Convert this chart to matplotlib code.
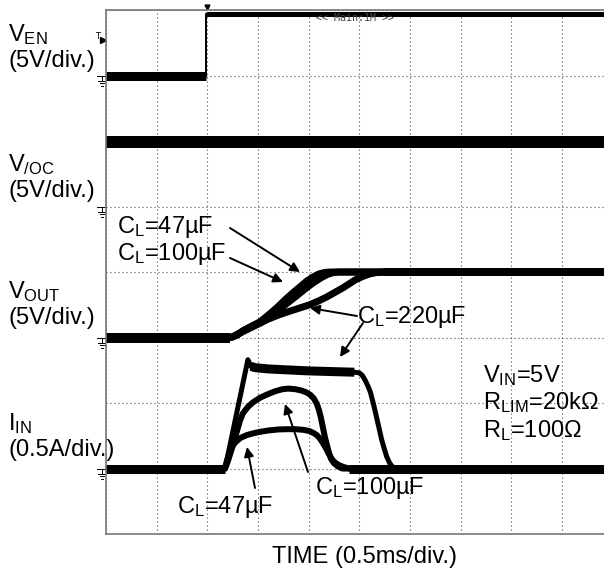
import matplotlib
matplotlib.use("Agg")
import numpy as np
import matplotlib.pyplot as plt

# 글꼴 설정 (Arial 비슷한 Liberation Sans)
plt.rcParams['font.family'] = ['Liberation Sans', 'DejaVu Sans']
plt.rcParams['mathtext.fontset'] = 'custom'
plt.rcParams['mathtext.rm'] = 'Liberation Sans'
plt.rcParams['mathtext.it'] = 'Liberation Sans:italic'

# ===== 스코프 설정 =====
T_PER_DIV = 0.5          # ms/div
X_DIVS, Y_DIVS = 10, 8

# 채널별 그라운드 위치(div)와 스케일(단위/div)
EN_GND, EN_SCALE = 7.0, 5.0     # V
OC_GND, OC_SCALE = 5.0, 5.0     # V
OUT_GND, OUT_SCALE = 3.0, 5.0   # V
IN_GND, IN_SCALE = 1.0, 0.5     # A

# ===== 파형 데이터 (시간 ms) =====
en_t = [0.0, 0.99, 0.99, 5.0]
en_v = [0.0, 0.0, 4.7, 4.7]

oc_t = [0.0, 5.0]
oc_v = [4.9, 4.9]

vout_t_47 = [0.0, 1.22, 1.25, 1.30, 1.35, 1.42, 1.52, 1.60, 1.69, 1.77, 1.85, 1.92, 1.98,
             2.04, 2.10, 2.16, 2.22, 5.0]
vout_v_47 = [0.0, 0.0, 0.05, 0.25, 0.5, 0.8, 1.2, 1.7, 2.3, 2.9, 3.45, 3.9, 4.3,
             4.6, 4.85, 4.97, 5.0, 5.0]
vout_t_100 = [0.0, 1.22, 1.25, 1.30, 1.35, 1.43, 1.52, 1.62, 1.72, 1.81, 1.90, 1.98, 2.05,
              2.12, 2.18, 2.24, 2.30, 5.0]
vout_v_100 = [0.0, 0.0, 0.05, 0.22, 0.45, 0.75, 1.1, 1.6, 2.2, 2.75, 3.3, 3.8, 4.2,
              4.55, 4.8, 4.95, 5.0, 5.0]
vout_t_220 = [0.0, 1.22, 1.25, 1.30, 1.35, 1.43, 1.52, 1.60, 1.68, 1.77, 1.85, 1.93, 2.01,
              2.10, 2.18, 2.26, 2.34, 2.40, 2.46, 2.53, 2.60, 2.67, 2.75, 5.0]
vout_v_220 = [0.0, 0.0, 0.05, 0.25, 0.5, 0.8, 1.1, 1.4, 1.65, 1.9, 2.1, 2.3, 2.5,
              2.8, 3.1, 3.45, 3.8, 4.1, 4.4, 4.65, 4.85, 4.96, 5.0, 5.0]

iin_t_47 = [0.0, 1.175, 1.19, 1.21, 1.235, 1.26, 1.29, 1.33, 1.39, 1.46, 1.52, 1.60, 1.70,
            1.785, 1.87, 1.95, 2.01, 2.05, 2.08, 2.11, 2.14, 2.17, 2.20, 2.23, 2.26, 2.30,
            2.35, 2.40, 5.0]
iin_a_47 = [0.0, 0.0, 0.05, 0.10, 0.15, 0.185, 0.21, 0.235, 0.255, 0.27, 0.28, 0.29, 0.298,
            0.30, 0.30, 0.295, 0.285, 0.27, 0.255, 0.23, 0.195, 0.155, 0.11, 0.07, 0.045, 0.025,
            0.01, 0.0, 0.0]
iin_t_100 = [0.0, 1.175, 1.20, 1.225, 1.26, 1.29, 1.32, 1.35, 1.40, 1.45, 1.52, 1.59, 1.67,
             1.74, 1.80, 1.87, 1.93, 1.98, 2.02, 2.05, 2.08, 2.10, 2.12, 2.14, 2.16, 2.18,
             2.20, 2.22, 2.25, 2.29, 2.33, 5.0]
iin_a_100 = [0.0, 0.0, 0.05, 0.11, 0.20, 0.28, 0.36, 0.42, 0.47, 0.505, 0.54, 0.565, 0.59,
             0.605, 0.61, 0.605, 0.595, 0.58, 0.56, 0.535, 0.495, 0.45, 0.39, 0.315, 0.24, 0.18,
             0.12, 0.075, 0.04, 0.015, 0.0, 0.0]
iin_t_220 = [0.0, 1.175, 1.40, 1.43, 1.47, 1.6, 2.0, 2.45, 2.50, 2.53, 2.56, 2.59, 2.61,
             2.64, 2.67, 2.70, 2.72, 2.75, 2.77, 2.80, 2.83, 2.86, 5.0]
iin_a_220 = [0.0, 0.0, 0.83, 0.78, 0.77, 0.76, 0.745, 0.735, 0.73, 0.71, 0.67, 0.62, 0.58,
             0.49, 0.39, 0.29, 0.22, 0.14, 0.09, 0.04, 0.01, 0.0, 0.0]

W, H = 604, 571
X0, Y0 = 106, 534            # 그리드 왼쪽 아래 (픽셀)
DX, DY = 50.67, 65.5         # div 당 픽셀


def px(x, y):
    """화면 픽셀 -> 데이터 좌표 (ms, div)"""
    return ((x - X0) / DX * T_PER_DIV, (Y0 - y) / DY)


def fpx(x, y):
    """화면 픽셀 -> figure 좌표"""
    return (x / W, 1 - y / H)


def lw(p):
    return p * 0.72


fig = plt.figure(figsize=(W / 100, H / 100), dpi=100)
ax = fig.add_axes([X0 / W, (H - Y0) / H, X_DIVS * DX / W, Y_DIVS * DY / H])
ax.set_xlim(0, X_DIVS * T_PER_DIV)
ax.set_ylim(0, Y_DIVS)
ax.set_xticks(np.arange(0, X_DIVS + 1) * T_PER_DIV)
ax.set_yticks(np.arange(0, Y_DIVS + 1))
ax.tick_params(length=0, labelbottom=False, labelleft=False)
ax.grid(True, color='#222222', lw=0.8, linestyle=(0, (0.8, 2.8)))
for s in ax.spines.values():
    s.set_color('#777777')
    s.set_linewidth(1.2)

k = 'black'
# V_EN
en_y = [EN_GND + v / EN_SCALE for v in en_v]
ax.plot(en_t, en_y, color=k, lw=lw(2))
ax.plot(en_t[:2], en_y[:2], color=k, lw=lw(9), solid_capstyle='butt')
ax.plot(en_t[2:], en_y[2:], color=k, lw=lw(5), solid_capstyle='butt')
# V_/OC
ax.plot(oc_t, [OC_GND + v / OC_SCALE for v in oc_v], color=k, lw=lw(12), solid_capstyle='butt')
# V_OUT
for t, v in [(vout_t_47, vout_v_47), (vout_t_100, vout_v_100), (vout_t_220, vout_v_220)]:
    ax.plot(t, [OUT_GND + x / OUT_SCALE for x in v], color=k, lw=lw(7),
            solid_capstyle='butt', solid_joinstyle='round')
# 낮은 구간 / 높은 구간은 노이즈 때문에 더 두꺼움
ax.plot(vout_t_47[:2], [OUT_GND] * 2, color=k, lw=lw(10), solid_capstyle='butt')
ax.plot(vout_t_220[-2:], [OUT_GND + x / OUT_SCALE for x in vout_v_220[-2:]], color=k, lw=lw(8),
        solid_capstyle='butt')
# I_IN
for t, a, w in [(iin_t_47, iin_a_47, 6), (iin_t_100, iin_a_100, 6), (iin_t_220, iin_a_220, 5)]:
    ax.plot(t, [IN_GND + x / IN_SCALE for x in a], color=k, lw=lw(w),
            solid_capstyle='butt', solid_joinstyle='round')
# 220uF 평탄 구간과 그라운드 구간도 두껍게
ax.plot(iin_t_220[3:8], [IN_GND + x / IN_SCALE for x in iin_a_220[3:8]], color=k, lw=lw(9),
        solid_capstyle='butt')
ax.plot([0, iin_t_220[1]], [IN_GND, IN_GND], color=k, lw=lw(9), solid_capstyle='butt')
ax.plot([iin_t_47[-2], iin_t_47[-1]], [IN_GND, IN_GND], color=k, lw=lw(9), solid_capstyle='butt')


# 그라운드 기호
def ground(gnd_div):
    y = Y0 - gnd_div * DY
    segs = [((97, y), (106, y)), ((101.5, y), (101.5, y + 5)),
            ((98, y + 5), (105, y + 5)), ((99.5, y + 7.5), (103.5, y + 7.5)),
            ((100.5, y + 10), (102.5, y + 10))]
    for a, b in segs:
        p, q = px(*a), px(*b)
        ax.plot([p[0], q[0]], [p[1], q[1]], color=k, lw=0.7, clip_on=False)


for g in [EN_GND, OC_GND, OUT_GND, IN_GND]:
    ground(g)

# 트리거 표시
fig.text(*fpx(95, 39), 'T', fontsize=6, family='DejaVu Sans')
ax.plot(*px(103, 40), marker='>', ms=4, color=k, clip_on=False)
ax.plot(*px(206.5, 6.5), marker='v', ms=3.5, color=k, clip_on=False)
fig.text(*fpx(316, 21), '<< Main:1M >>', fontsize=7.2, family='DejaVu Sans Mono', color='#444444')

# 왼쪽 채널 라벨
fs = 17
labels = [
    (41, r'V$_\mathregular{EN}$'), (67, '(5V/div.)'),
    (171, r'V$_\mathregular{/OC}$'), (197, '(5V/div.)'),
    (298, r'V$_\mathregular{OUT}$'), (324, '(5V/div.)'),
    (430, r'I$_\mathregular{IN}$'), (456, '(0.5A/div.)'),
]
for y, s in labels:
    fig.text(*fpx(8, y), s, fontsize=fs, va='baseline')

# 조건 텍스트
for y, s in [(382, r'V$_\mathregular{IN}$=5V'), (409, r'R$_\mathregular{LIM}$=20k$\Omega$'),
             (437, r'R$_\mathregular{L}$=100$\Omega$')]:
    fig.text(*fpx(483, y), s, fontsize=fs, va='baseline')

# C_L 주석
cl = [(117, 233, '47'), (117, 260, '100'), (357, 323, '220'), (177, 513, '47'), (315, 494, '100')]
for x, y, c in cl:
    fig.text(*fpx(x, y), r'C$_\mathregular{L}$=' + c + 'µF', fontsize=fs, va='baseline')

arrows = [((230, 228), (300, 272)), ((230, 258), (283, 282)),
          ((357, 316), (310, 308)), ((363, 323), (340, 357)),
          ((255, 488), (247, 447)), ((308, 472), (285, 404))]
for tail, tip in arrows:
    ax.annotate('', xy=px(*tip), xytext=px(*tail), annotation_clip=False,
                arrowprops=dict(arrowstyle='-|>', color=k, lw=1.4, mutation_scale=14,
                                shrinkA=0, shrinkB=0))

fig.text(*fpx(365, 563), 'TIME (0.5ms/div.)', fontsize=fs, ha='center', va='baseline')

fig.savefig('out.png', dpi=100, facecolor='white')
